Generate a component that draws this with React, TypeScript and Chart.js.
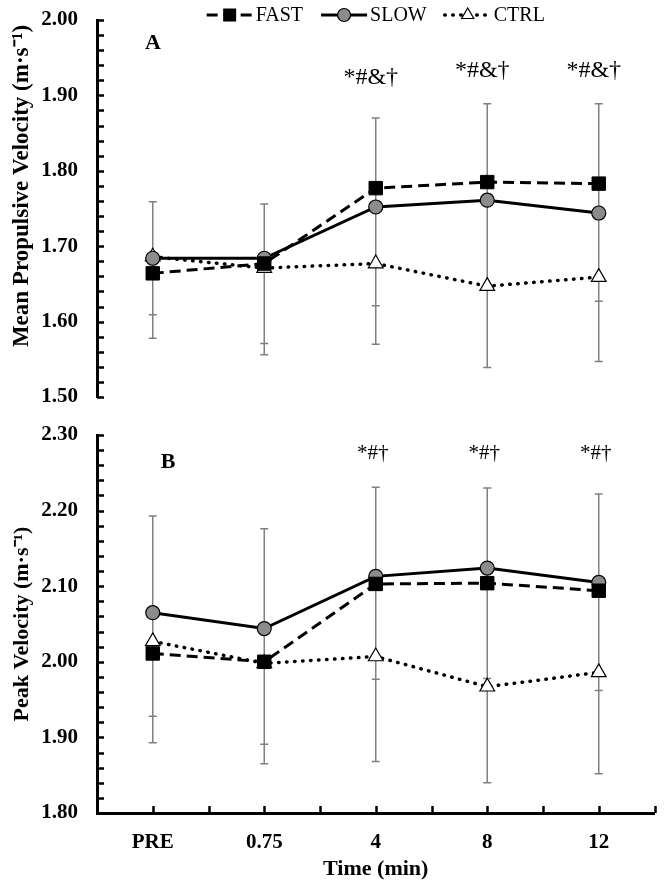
import React, { useEffect, useRef } from "react";
import { Chart, registerables } from "chart.js";

Chart.register(...registerables);

// ---------- data ----------
const timeLabels = ["PRE", "0.75", "4", "8", "12"];

// Panel A: Mean Propulsive Velocity (m·s⁻¹)
const mpvFast = [1.664, 1.677, 1.777, 1.785, 1.783];
const mpvSlow = [1.684, 1.684, 1.752, 1.761, 1.744];
const mpvCtrl = [1.686, 1.671, 1.677, 1.647, 1.659];
const mpvErrUpper = [1.759, 1.756, 1.87, 1.889, 1.889];
const mpvErrLowerA: (number | null)[] = [1.609, 1.571, 1.621, null, 1.627];
const mpvErrLowerB = [1.578, 1.556, 1.57, 1.539, 1.547];
const mpvMarks = ["", "", "*#&†", "*#&†", "*#&†"];
const mpvMarkY: (number | null)[] = [null, null, 1.924, 1.933, 1.933];
const mpvMin = 1.5;
const mpvMax = 2.0;

// Panel B: Peak Velocity (m·s⁻¹)
const pvFast = [2.011, 2.0, 2.103, 2.104, 2.094];
const pvSlow = [2.065, 2.044, 2.113, 2.124, 2.105];
const pvCtrl = [2.027, 1.998, 2.007, 1.967, 1.986];
const pvErrUpper = [2.193, 2.176, 2.231, 2.23, 2.222];
const pvErrLowerA = [1.928, 1.891, 1.977, 1.978, 1.962];
const pvErrLowerB = [1.893, 1.865, 1.868, 1.84, 1.852];
const pvMarks = ["", "", "*#†", "*#†", "*#†"];
const pvMarkY: (number | null)[] = [null, null, 2.276, 2.276, 2.276];
const pvMin = 1.8;
const pvMax = 2.3;

const seriesNames = ["FAST", "SLOW", "CTRL"];

// ---------- styles ----------
const FONT = "'Liberation Serif', 'Times New Roman', serif";

const fastStyle = {
  borderColor: "#000",
  borderWidth: 3,
  borderDash: [11, 6],
  pointStyle: "rect",
  pointRadius: 9.5,
  pointBackgroundColor: "#000",
  pointBorderColor: "#000",
  pointBorderWidth: 1,
  tension: 0,
};
const slowStyle = {
  borderColor: "#000",
  borderWidth: 3,
  pointStyle: "circle",
  pointRadius: 7,
  pointBackgroundColor: "#8c8c8c",
  pointBorderColor: "#000",
  pointBorderWidth: 1.2,
  tension: 0,
};
const ctrlStyle = {
  borderColor: "#000",
  borderWidth: 3.5,
  borderDash: [0.5, 7.5],
  borderCapStyle: "round",
  pointStyle: "triangle",
  pointRadius: 8.5,
  pointBackgroundColor: "#fff",
  pointBorderColor: "#000",
  pointBorderWidth: 1.2,
  tension: 0,
};

type Decor = {
  errUpper: (number | null)[];
  errLowerA: (number | null)[];
  errLowerB: (number | null)[];
  marks: string[];
  markY: (number | null)[];
  markFont: string;
  markDx: number;
  letter: string;
  letterX: number;
  letterY: number;
  yTitle: string;
  yTitleFont: string;
  yTitleX: number;
  yTitleY: number;
  minorStep: number;
  xTicks: boolean;
  legend: boolean;
};

function drawMarker(ctx: CanvasRenderingContext2D, kind: string, x: number, y: number) {
  ctx.save();
  ctx.setLineDash([]);
  ctx.strokeStyle = "#000";
  if (kind === "rect") {
    ctx.fillStyle = "#000";
    ctx.fillRect(x - 6.5, y - 6.5, 13, 13);
  } else if (kind === "circle") {
    ctx.fillStyle = "#8c8c8c";
    ctx.lineWidth = 1.2;
    ctx.beginPath();
    ctx.arc(x, y, 6.5, 0, Math.PI * 2);
    ctx.fill();
    ctx.stroke();
  } else {
    ctx.fillStyle = "#fff";
    ctx.lineWidth = 1.2;
    const r = 7;
    ctx.beginPath();
    ctx.moveTo(x, y - r);
    ctx.lineTo(x + r * 0.866, y + r * 0.5);
    ctx.lineTo(x - r * 0.866, y + r * 0.5);
    ctx.closePath();
    ctx.fill();
    ctx.stroke();
  }
  ctx.restore();
}

function makeDecor(d: Decor) {
  return {
    id: "decor",
    beforeDatasetsDraw(chart: any) {
      const ctx = chart.ctx as CanvasRenderingContext2D;
      const xs = chart.scales.x;
      const ys = chart.scales.y;
      ctx.save();
      ctx.strokeStyle = "#808080";
      ctx.lineWidth = 1.5;
      for (let i = 0; i < timeLabels.length; i++) {
        const vals = [d.errUpper[i], d.errLowerA[i], d.errLowerB[i]].filter(
          (v) => v !== null && v !== undefined
        ) as number[];
        if (!vals.length) continue;
        const px = xs.getPixelForValue(i);
        const top = ys.getPixelForValue(Math.max(...vals));
        const bot = ys.getPixelForValue(Math.min(...vals));
        ctx.beginPath();
        ctx.moveTo(px, top);
        ctx.lineTo(px, bot);
        for (const v of vals) {
          const py = ys.getPixelForValue(v);
          ctx.moveTo(px - 4, py);
          ctx.lineTo(px + 4, py);
        }
        ctx.stroke();
      }
      ctx.restore();
    },
    afterDraw(chart: any) {
      const ctx = chart.ctx as CanvasRenderingContext2D;
      const xs = chart.scales.x;
      const ys = chart.scales.y;
      const area = chart.chartArea;
      ctx.save();
      // y-axis tick marks (inside)
      ctx.strokeStyle = "#000";
      ctx.lineWidth = 2.5;
      ctx.beginPath();
      const n = Math.round((ys.max - ys.min) / d.minorStep);
      for (let k = 0; k <= n; k++) {
        const py = Math.round(ys.getPixelForValue(ys.min + k * d.minorStep)) + 0.5;
        ctx.moveTo(area.left, py);
        ctx.lineTo(area.left + 7, py);
      }
      ctx.stroke();
      // x-axis tick marks (inside), at category centres and boundaries
      if (d.xTicks) {
        const half = (xs.getPixelForValue(1) - xs.getPixelForValue(0)) / 2;
        ctx.beginPath();
        for (let k = 1; k <= timeLabels.length * 2; k++) {
          const px = Math.round(area.left + k * half) + 0.5;
          ctx.moveTo(px, area.bottom);
          ctx.lineTo(px, area.bottom - 7);
        }
        ctx.stroke();
      }
      // significance marks
      ctx.fillStyle = "#000";
      ctx.font = d.markFont;
      ctx.textAlign = "center";
      ctx.textBaseline = "middle";
      for (let i = 0; i < d.marks.length; i++) {
        const v = d.markY[i];
        if (!d.marks[i] || v === null) continue;
        ctx.fillText(d.marks[i], xs.getPixelForValue(i) + d.markDx, ys.getPixelForValue(v));
      }
      // panel letter
      ctx.font = `bold 22px ${FONT}`;
      ctx.fillText(d.letter, d.letterX, d.letterY);
      // y-axis title
      ctx.save();
      ctx.translate(d.yTitleX, d.yTitleY);
      ctx.rotate(-Math.PI / 2);
      ctx.font = d.yTitleFont;
      ctx.fillText(d.yTitle, 0, 0);
      ctx.restore();
      // legend
      if (d.legend) {
        ctx.font = `20px ${FONT}`;
        ctx.textAlign = "left";
        const sampleW = 46;
        const gapText = 3;
        const gapItem = 18;
        const widths = seriesNames.map((s) => sampleW + gapText + ctx.measureText(s).width);
        const total = widths.reduce((a, b) => a + b, 0) + gapItem * (widths.length - 1);
        let x = (area.left + area.right) / 2 - total / 2;
        const y = 15;
        const styles: any[] = [fastStyle, slowStyle, ctrlStyle];
        const kinds = ["rect", "circle", "triangle"];
        seriesNames.forEach((s, i) => {
          const st = styles[i];
          ctx.save();
          ctx.strokeStyle = "#000";
          ctx.lineWidth = st.borderWidth;
          ctx.lineCap = st.borderCapStyle || "butt";
          ctx.setLineDash(st.borderDash || []);
          ctx.beginPath();
          ctx.moveTo(x, y);
          ctx.lineTo(x + sampleW, y);
          ctx.stroke();
          ctx.restore();
          drawMarker(ctx, kinds[i], x + sampleW / 2, y);
          ctx.fillStyle = "#000";
          ctx.fillText(s, x + sampleW + gapText, y + 1);
          x += widths[i] + gapItem;
        });
      }
      ctx.restore();
    },
  };
}

function buildConfig(
  fast: number[],
  slow: number[],
  ctrl: number[],
  min: number,
  max: number,
  padding: any,
  showX: boolean,
  decor: Decor
): any {
  const tickFont = { family: FONT, size: 21, weight: "bold" as const };
  const xScale: any = {
    type: "category",
    offset: true,
    display: showX,
    // tick marks are drawn by the decor plugin; tickLength only spaces the labels
    grid: { display: false, drawTicks: true, tickLength: 17 },
    border: { display: true, color: "#000", width: 3 },
    ticks: { font: tickFont, color: "#000", padding: 0, maxRotation: 0, autoSkip: false },
    title: {
      display: true,
      text: "Time (min)",
      color: "#000",
      font: { family: FONT, size: 22, weight: "bold" },
      padding: { top: 0, bottom: 7 },
    },
  };
  if (showX) {
    xScale.afterFit = (s: any) => {
      s.height = 77;
    };
  }
  return {
    type: "line",
    data: {
      labels: timeLabels,
      datasets: [
        { label: seriesNames[0], data: fast, ...fastStyle },
        { label: seriesNames[1], data: slow, ...slowStyle },
        { label: seriesNames[2], data: ctrl, ...ctrlStyle },
      ],
    },
    options: {
      animation: false,
      responsive: false,
      maintainAspectRatio: false,
      events: [],
      layout: { padding },
      plugins: { legend: { display: false }, tooltip: { enabled: false } },
      scales: {
        x: xScale,
        y: {
          min,
          max,
          grid: { display: false, drawTicks: true, tickLength: 19 },
          border: { display: true, color: "#000", width: 3 },
          ticks: {
            stepSize: 0.1,
            font: tickFont,
            color: "#000",
            padding: 0,
            callback: (v: any) => Number(v).toFixed(2),
          },
          afterFit: (s: any) => {
            s.width = 97;
          },
        },
      },
    },
    plugins: [makeDecor(decor)],
  };
}

function Panel(props: { top: number; height: number; config: () => any }) {
  const ref = useRef<HTMLCanvasElement | null>(null);
  useEffect(() => {
    if (!ref.current) return;
    const chart = new Chart(ref.current, props.config());
    return () => chart.destroy();
  }, []);
  return (
    <canvas
      ref={ref}
      width={665}
      height={props.height}
      style={{ position: "absolute", left: 0, top: props.top, width: 665, height: props.height }}
    />
  );
}

export default function App() {
  const configA = () =>
    buildConfig(
      mpvFast,
      mpvSlow,
      mpvCtrl,
      mpvMin,
      mpvMax,
      { left: 0, right: 10, top: 20, bottom: 23 },
      false,
      {
        errUpper: mpvErrUpper,
        errLowerA: mpvErrLowerA,
        errLowerB: mpvErrLowerB,
        marks: mpvMarks,
        markY: mpvMarkY,
        markFont: `24px ${FONT}`,
        markDx: -5,
        letter: "A",
        letterX: 153,
        letterY: 43,
        yTitle: "Mean Propulsive Velocity (m·s⁻¹)",
        yTitleFont: `bold 23px ${FONT}`,
        yTitleX: 22,
        yTitleY: 186,
        minorStep: 0.02,
        xTicks: false,
        legend: true,
      }
    );
  const configB = () =>
    buildConfig(
      pvFast,
      pvSlow,
      pvCtrl,
      pvMin,
      pvMax,
      { left: 0, right: 10, top: 15, bottom: 0 },
      true,
      {
        errUpper: pvErrUpper,
        errLowerA: pvErrLowerA,
        errLowerB: pvErrLowerB,
        marks: pvMarks,
        markY: pvMarkY,
        markFont: `21px ${FONT}`,
        markDx: -3,
        letter: "B",
        letterX: 168,
        letterY: 42,
        yTitle: "Peak Velocity (m·s⁻¹)",
        yTitleFont: `bold 22px ${FONT}`,
        yTitleX: 22,
        yTitleY: 204,
        minorStep: 0.02,
        xTicks: true,
        legend: false,
      }
    );
  return (
    <div style={{ position: "absolute", left: 0, top: 0, width: 665, height: 890, background: "#fff" }}>
      <Panel top={0} height={420} config={configA} />
      <Panel top={420} height={470} config={configB} />
    </div>
  );
}
